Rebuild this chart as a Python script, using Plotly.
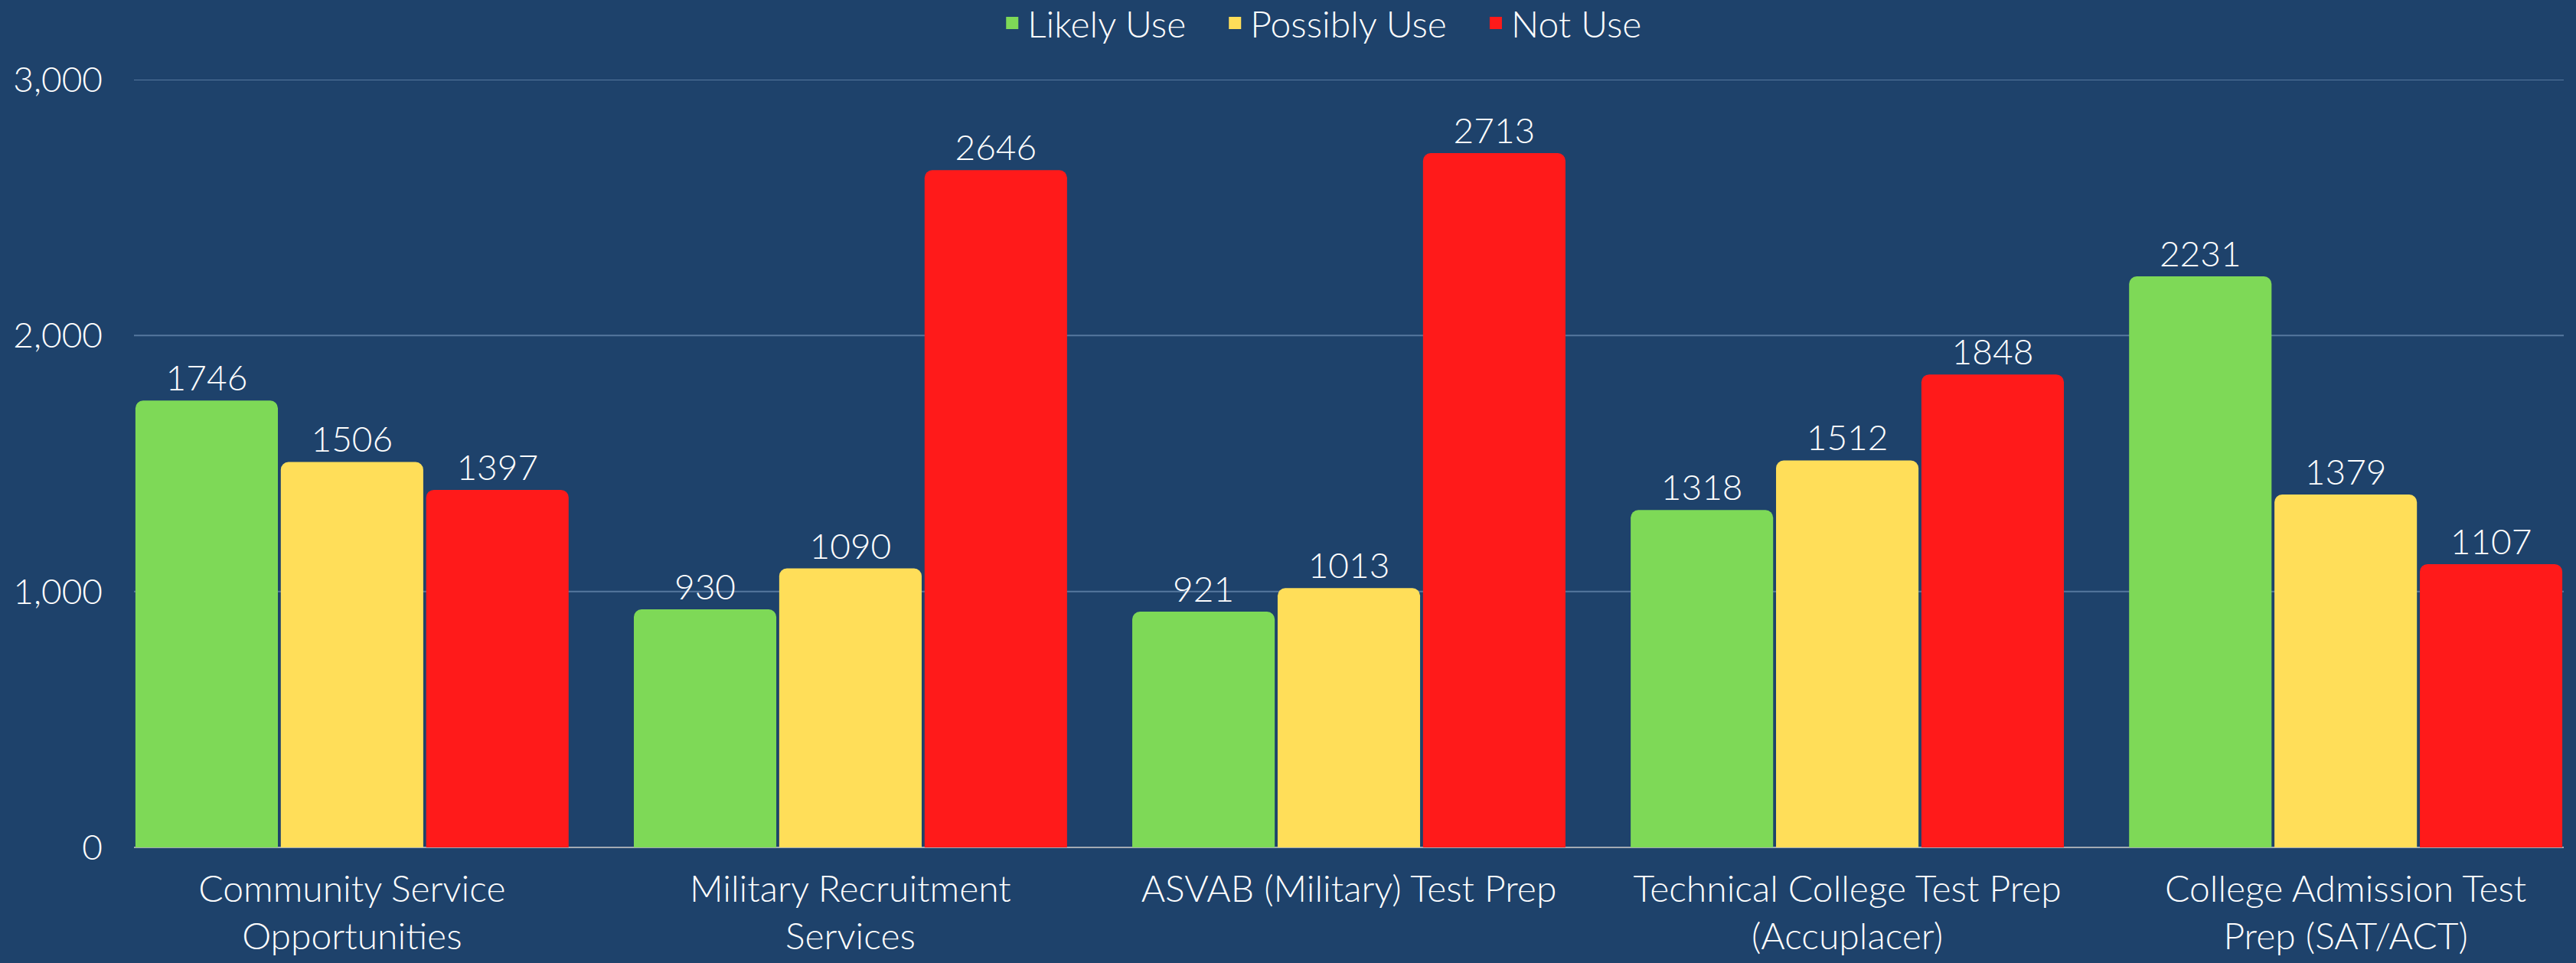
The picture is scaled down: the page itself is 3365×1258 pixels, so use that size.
import plotly.graph_objects as go

categories = [
    "Community Service<br>Opportunities",
    "Military Recruitment<br>Services",
    "ASVAB (Military) Test Prep",
    "Technical College Test Prep<br>(Accuplacer)",
    "College Admission Test<br>Prep (SAT/ACT)",
]
likely_use = [1746, 930, 921, 1318, 2231]
possibly_use = [1506, 1090, 1013, 1512, 1379]
not_use = [1397, 2646, 2713, 1848, 1107]
series_names = ["Likely Use", "Possibly Use", "Not Use"]
series_colors = ["#7ed957", "#ffde59", "#ff1a1a"]
y_ticks = [0, 1000, 2000, 3000]

BG = "#1e426b"
FONT = "Lato"
W = 300

fig = go.Figure()
for name, vals, color in zip(series_names, [likely_use, possibly_use, not_use], series_colors):
    fig.add_trace(go.Bar(
        name=name, x=categories, y=vals, showlegend=False,
        marker=dict(color=color, line=dict(width=0), cornerradius=10),
        text=[str(v) for v in vals], textposition="outside",
        textfont=dict(color="white", size=46, family=FONT, weight=W),
        cliponaxis=False,
    ))

# legend entries (square swatches)
for i, (name, color) in enumerate(zip(series_names, series_colors)):
    pad = "\u00a0" * 3 if i < len(series_names) - 1 else ""
    fig.add_trace(go.Scatter(
        name=name + pad, x=[None], y=[None], mode="markers",
        marker=dict(symbol="square", size=16, color=color),
        showlegend=True, hoverinfo="skip",
    ))

# horizontal gridlines at the tick values
for v in y_ticks[1:]:
    fig.add_shape(type="line", xref="paper", yref="y", x0=0, x1=1, y0=v, y1=v,
                  line=dict(color="#56789e", width=2), layer="below")

gap = 0.125
fig.update_layout(
    width=3365, height=1258,
    paper_bgcolor=BG, plot_bgcolor=BG,
    barmode="group", bargap=gap, bargroupgap=0.02,
    margin=dict(l=175, r=16, t=104, b=151, pad=0),
    font=dict(family=FONT, color="white", size=48, weight=W),
    legend=dict(orientation="h", xref="container", x=0.387, xanchor="left",
                yref="container", y=0.976, yanchor="middle",
                font=dict(size=48, color="white", family=FONT, weight=W),
                bgcolor="rgba(0,0,0,0)"),
    xaxis=dict(range=[-0.5 + gap / 2, len(categories) - 0.5 - gap / 2],
               showgrid=False, showline=False, ticks="", automargin=False,
               ticklabelstandoff=22,
               tickfont=dict(size=48, color="white", family=FONT, weight=W)),
    yaxis=dict(range=[0, 3000], tickvals=y_ticks, tickformat=",",
               showgrid=False,
               zeroline=True, zerolinecolor="#a3aab3", zerolinewidth=2,
               showline=False, ticks="", ticklabelstandoff=40, automargin=False,
               tickfont=dict(size=46, color="white", family=FONT, weight=W)),
)

fig.write_html("out.html", config={"displayModeBar": False},
               post_script="document.body.style.margin='0';")
